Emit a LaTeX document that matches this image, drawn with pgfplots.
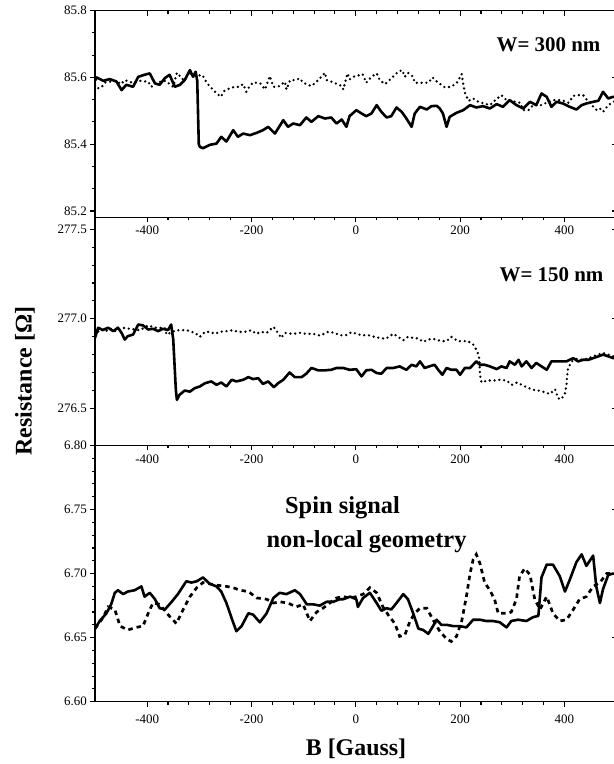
\documentclass[border=0pt]{standalone}
\usepackage{fontspec}
\setmainfont{Liberation Serif}
\usepackage{pgfplots}
\pgfplotsset{compat=1.18}

\pgfplotsset{
  panel/.style={
    scale only axis, width=521.6bp, anchor=south west,
    xmin=-500, xmax=500,
    xtick={-400,-200,0,200,400}, minor x tick num=4,
    axis line style={line width=1.5bp},
    major tick length=5bp, minor tick length=3bp,
    every tick/.style={line width=1.1bp, black},
    tick align=outside, xtick pos=left, ytick pos=left,
    ticklabel style={font=\fontsize{13}{13}\selectfont, inner sep=0pt},
    yticklabel style={xshift=-3bp},
    /pgf/number format/assume math mode=true,
    scaled y ticks=false,
  },
  frame/.style={
    scale only axis, width=521.6bp, anchor=south west,
    xmin=-500, xmax=500,
    xtick={-400,-200,0,200,400}, minor x tick num=4,
    axis line style={line width=1.5bp},
    major tick length=5bp, minor tick length=3bp,
    every tick/.style={line width=1.1bp, black},
    tick align=inside, xtick pos=right, ytick pos=right,
    xticklabels={}, yticklabels={},
    ticklabel style={text opacity=0},
    scaled y ticks=false,
  },
  solid/.style={black, line width=2.6bp, line join=round},
  dots/.style={black, line width=2.6bp, line cap=round, dash pattern=on 0bp off 4.8bp},
  dashes/.style={black, line width=2.7bp, dash pattern=on 4.5bp off 4bp},
}

\begin{document}
\begin{tikzpicture}
\path[use as bounding box] (0,0) rectangle (614bp,764bp);

% ---- W = 300 nm
\begin{axis}[panel, at={(95bp,546.7bp)}, height=206.6bp,
  ymin=85.181, ymax=85.8, ytick={85.2,85.4,85.6,85.8}, minor y tick num=2,
  yticklabel style={/pgf/number format/.cd, fixed, fixed zerofill, precision=1},
  xticklabel style={yshift=-3bp}]
\addplot[dots] coordinates {
(-500,85.575) (-497,85.567) (-488,85.570) (-480,85.585) (-472,85.587) (-460,85.590)
(-450,85.580) (-443,85.592) (-430,85.585) (-415,85.590) (-398,85.587) (-392,85.572)
(-380,85.585) (-365,85.590) (-350,85.572) (-343,85.614) (-332,85.595) (-318,85.612)
(-305,85.605) (-294,85.607) (-285,85.582) (-272,85.560) (-259,85.542) (-252,85.560)
(-238,85.570) (-224,85.572) (-216,85.580) (-210,85.557) (-205,85.570) (-197,85.585)
(-190,85.584) (-183,85.582) (-174,85.564) (-168,85.590) (-165,85.604) (-158,85.572)
(-149,85.572) (-136,85.587) (-133,85.564) (-126,85.592) (-117,85.592) (-107,85.597)
(-101,85.584) (-85,85.574) (-72,85.592) (-59,85.614) (-56,85.592) (-50,85.590)
(-43,85.584) (-34,85.580) (-27,85.574) (-24,85.564) (-16,85.612) (-12,85.594)
(-2,85.604) (8,85.607) (13,85.610) (20,85.584) (30,85.602) (40,85.612) (46,85.592)
(56,85.580) (68,85.597) (81,85.617) (89,85.622) (94,85.602) (100,85.614) (110,85.602)
(113,85.584) (126,85.584) (139,85.584) (147,85.600) (155,85.588) (171,85.570)
(182,85.572) (193,85.582) (203,85.610) (206,85.580) (209,85.555) (216,85.530)
(225,85.537) (235,85.527) (257,85.517) (266,85.530) (279,85.547) (289,85.532)
(305,85.527) (315,85.524) (321,85.502) (331,85.502) (340,85.517) (356,85.517)
(369,85.527) (379,85.532) (395,85.532) (408,85.524) (417,85.545) (427,85.547)
(436,85.547) (446,85.527) (462,85.502) (468,85.507) (474,85.497) (484,85.517)
(494,85.527) (500,85.530)
};
\addplot[solid] coordinates {
(-500,85.590) (-497,85.600) (-484,85.590) (-472,85.595) (-459,85.588) (-449,85.562)
(-440,85.578) (-427,85.572) (-417,85.602) (-405,85.608) (-395,85.612) (-385,85.582)
(-376,85.578) (-366,85.598) (-357,85.608) (-347,85.572) (-337,85.578) (-328,85.592)
(-318,85.622) (-312,85.602) (-307,85.617) (-304,85.590) (-301,85.400) (-299,85.392)
(-293,85.388) (-280,85.398) (-267,85.402) (-258,85.422) (-248,85.408) (-235,85.442)
(-226,85.422) (-216,85.432) (-203,85.427) (-190,85.434) (-178,85.442) (-168,85.452)
(-155,85.432) (-139,85.472) (-130,85.452) (-120,85.462) (-107,85.457) (-95,85.480)
(-85,85.467) (-72,85.484) (-59,85.477) (-47,85.480) (-37,85.462) (-27,85.474)
(-18,85.452) (-12,85.484) (1,85.502) (11,85.492) (20,85.484) (30,85.492) (40,85.517)
(49,85.497) (59,85.480) (68,85.484) (78,85.510) (88,85.497) (97,85.477) (107,85.452)
(113,85.492) (123,85.512) (136,85.504) (145,85.514) (155,85.515) (161,85.507)
(167,85.492) (174,85.452) (180,85.482) (193,85.494) (206,85.502) (219,85.517)
(231,85.510) (244,85.514) (257,85.507) (270,85.520) (282,85.512) (295,85.532)
(308,85.517) (321,85.507) (334,85.527) (346,85.517) (356,85.552) (366,85.542)
(375,85.512) (385,85.527) (397,85.522) (410,85.512) (423,85.504) (433,85.517)
(442,85.522) (455,85.527) (465,85.530) (474,85.557) (484,85.537) (493,85.542)
(500,85.540)
};
\end{axis}
\begin{axis}[frame, at={(95bp,546.7bp)}, height=206.6bp,
  ymin=85.181, ymax=85.8, ytick={85.2,85.4,85.6,85.8}, minor y tick num=2]
\end{axis}

% ---- W = 150 nm
\begin{axis}[panel, at={(95bp,318.5bp)}, height=228.2bp,
  ymin=276.292, ymax=277.567, ytick={276.5,277,277.5}, minor y tick num=4,
  yticklabel style={/pgf/number format/.cd, fixed, fixed zerofill, precision=1},
  xticklabel style={yshift=-4bp}]
\addplot[dots] coordinates {
(-500,276.910) (-490,276.940) (-480,276.930) (-470,276.945) (-460,276.930)
(-446,276.949) (-433,276.944) (-414,276.936) (-398,276.963) (-385,276.950)
(-366,276.949) (-363,276.912) (-344,276.936) (-334,276.936) (-324,276.936)
(-308,276.921) (-299,276.899) (-289,276.927) (-280,276.927) (-270,276.916)
(-261,276.927) (-248,276.931) (-235,276.936) (-226,276.927) (-213,276.927)
(-200,276.936) (-191,276.916) (-181,276.927) (-171,276.921) (-158,276.955)
(-149,276.921) (-143,276.893) (-136,276.921) (-120,276.916) (-107,276.921)
(-95,276.916) (-82,276.916) (-68,276.906) (-53,276.927) (-40,276.921) (-31,276.908)
(-19,276.908) (-8,276.925) (1,276.916) (11,276.908) (24,276.908) (36,276.899)
(46,276.893) (57,276.888) (72,276.916) (81,276.899) (91,276.880) (100,276.899)
(110,276.893) (120,276.890) (129,276.871) (139,276.884) (148,276.888) (164,276.875)
(174,276.875) (183,276.899) (196,276.875) (206,276.875) (215,276.875) (225,276.856)
(233,276.818) (237,276.775) (238,276.687) (241,276.644) (252,276.655) (264,276.655)
(276,276.659) (289,276.655) (299,276.631) (309,276.644) (318,276.631) (327,276.618)
(340,276.603) (350,276.599) (359,276.593) (372,276.580) (382,276.606) (388,276.556)
(394,276.550) (401,276.584) (404,276.631) (405,276.678) (407,276.725) (414,276.762)
(423,276.775) (433,276.771) (442,276.775) (455,276.790) (465,276.800) (474,276.809)
(484,276.800) (492,276.790) (500,276.790)
};
\addplot[solid] coordinates {
(-500,276.893) (-494,276.950) (-485,276.937) (-475,276.950) (-465,276.931)
(-456,276.950) (-449,276.921) (-443,276.884) (-437,276.903) (-427,276.912)
(-417,276.968) (-408,276.963) (-398,276.940) (-389,276.944) (-379,276.931)
(-370,276.944) (-360,276.937) (-354,276.968) (-350,276.884) (-345,276.603)
(-343,276.547) (-338,276.575) (-328,276.599) (-318,276.593) (-309,276.612)
(-299,276.622) (-289,276.640) (-277,276.650) (-267,276.631) (-258,276.644)
(-248,276.622) (-238,276.659) (-229,276.650) (-216,276.659) (-206,276.674)
(-197,276.663) (-187,276.668) (-178,276.636) (-168,276.650) (-157,276.618)
(-149,276.640) (-139,276.659) (-127,276.700) (-117,276.674) (-104,276.674)
(-95,276.693) (-85,276.725) (-72,276.712) (-59,276.712) (-47,276.715) (-37,276.725)
(-24,276.725) (-12,276.715) (1,276.718) (11,276.678) (20,276.712) (30,276.715)
(40,276.697) (49,276.693) (59,276.725) (72,276.725) (84,276.734) (97,276.715)
(107,276.743) (116,276.734) (123,276.762) (132,276.725) (142,276.735) (151,276.743)
(158,276.715) (166,276.687) (174,276.725) (183,276.715) (193,276.715) (200,276.687)
(209,276.725) (219,276.725) (231,276.762) (238,276.743) (247,276.743) (257,276.734)
(270,276.719) (279,276.734) (289,276.725) (295,276.762) (305,276.743) (312,276.771)
(318,276.734) (327,276.762) (337,276.725) (346,276.753) (356,276.734) (366,276.715)
(375,276.762) (388,276.762) (398,276.762) (404,276.762) (410,276.771) (417,276.780)
(426,276.762) (436,276.771) (446,276.771) (455,276.780) (465,276.790) (474,276.800)
(484,276.790) (494,276.780) (500,276.780)
};
\end{axis}
\begin{axis}[frame, at={(95bp,318.5bp)}, height=228.2bp,
  ymin=276.292, ymax=277.567, ytick={276.5,277,277.5}, minor y tick num=4]
\end{axis}

% ---- spin signal
\begin{axis}[panel, at={(95bp,62.3bp)}, height=256.2bp,
  ymin=6.6, ymax=6.8, ytick={6.6,6.65,6.7,6.75,6.8}, minor y tick num=4,
  yticklabel style={/pgf/number format/.cd, fixed, fixed zerofill, precision=2},
  xticklabel style={yshift=-8bp}]
\addplot[dashes] coordinates {
(-500,6.657) (-484,6.666) (-475,6.674) (-462,6.672) (-452,6.659) (-437,6.656)
(-421,6.658) (-408,6.659) (-398,6.669) (-389,6.677) (-376,6.676) (-360,6.668)
(-344,6.661) (-331,6.672) (-318,6.682) (-305,6.689) (-293,6.693) (-280,6.692)
(-267,6.691) (-248,6.690) (-235,6.689) (-222,6.687) (-206,6.686) (-190,6.681)
(-171,6.680) (-158,6.677) (-146,6.678) (-130,6.677) (-114,6.674) (-101,6.676)
(-88,6.663) (-75,6.670) (-63,6.673) (-50,6.677) (-37,6.681) (-24,6.682) (-11,6.681)
(1,6.682) (14,6.684) (27,6.689) (40,6.685) (52,6.674) (65,6.666) (75,6.661)
(84,6.651) (94,6.652) (104,6.663) (113,6.669) (123,6.673) (136,6.673) (148,6.664)
(161,6.655) (174,6.649) (183,6.647) (193,6.651) (203,6.663) (212,6.682) (219,6.700)
(225,6.711) (231,6.715) (238,6.708) (247,6.693) (257,6.687) (266,6.680) (273,6.669)
(282,6.669) (292,6.669) (298,6.670) (308,6.680) (314,6.698) (324,6.704) (334,6.699)
(343,6.680) (353,6.672) (366,6.682) (378,6.669) (391,6.663) (404,6.664) (417,6.672)
(429,6.680) (442,6.682) (455,6.690) (468,6.693) (481,6.700) (493,6.700) (500,6.700)
};
\addplot[solid, line width=2.6bp] coordinates {
(-500,6.657) (-491,6.663) (-478,6.669) (-469,6.676) (-462,6.685) (-456,6.687)
(-446,6.684) (-437,6.686) (-424,6.687) (-411,6.690) (-405,6.682) (-395,6.685)
(-385,6.680) (-376,6.673) (-366,6.672) (-353,6.678) (-341,6.684) (-325,6.694)
(-315,6.693) (-305,6.694) (-293,6.697) (-280,6.692) (-267,6.690) (-258,6.686)
(-248,6.677) (-237,6.664) (-229,6.655) (-219,6.659) (-206,6.669) (-197,6.668)
(-184,6.662) (-171,6.669) (-158,6.681) (-146,6.685) (-133,6.684) (-117,6.687)
(-107,6.684) (-94,6.676) (-82,6.676) (-69,6.675) (-56,6.678) (-43,6.678) (-31,6.680)
(-24,6.680) (-11,6.682) (1,6.680) (4,6.674) (14,6.681) (27,6.685) (40,6.677)
(49,6.671) (59,6.673) (68,6.672) (78,6.677) (91,6.684) (100,6.680) (110,6.669)
(120,6.657) (129,6.656) (139,6.653) (148,6.659) (155,6.664) (164,6.660) (174,6.660)
(187,6.659) (199,6.659) (212,6.658) (225,6.664) (238,6.664) (250,6.663) (263,6.663)
(276,6.662) (289,6.658) (298,6.663) (311,6.664) (327,6.663) (340,6.666) (350,6.667)
(356,6.697) (366,6.707) (378,6.707) (391,6.698) (401,6.686) (410,6.695) (423,6.709)
(433,6.715) (442,6.706) (455,6.714) (461,6.690) (468,6.677) (474,6.688) (484,6.699)
(493,6.700) (500,6.700)
};
\end{axis}
\begin{axis}[frame, at={(95bp,62.3bp)}, height=256.2bp,
  ymin=6.6, ymax=6.8, ytick={6.6,6.65,6.7,6.75,6.8}, minor y tick num=4]
\end{axis}

% ---- texts
\node[anchor=base, font=\bfseries\fontsize{21}{21}\selectfont, inner sep=0pt] at (548.5bp,712bp) {W= 300 nm};
\node[anchor=base, font=\bfseries\fontsize{21}{21}\selectfont, inner sep=0pt] at (551.5bp,482.3bp) {W= 150 nm};
\node[anchor=base, font=\bfseries\fontsize{24.5}{24.5}\selectfont, inner sep=0pt] at (342.5bp,250.7bp) {Spin signal};
\node[anchor=base, font=\bfseries\fontsize{24.5}{24.5}\selectfont, inner sep=0pt] at (366.5bp,216.7bp) {non-local geometry};
\node[anchor=base, font=\bfseries\fontsize{24}{24}\selectfont, inner sep=0pt] at (356bp,9bp) {B [Gauss]};
\node[rotate=90, font=\bfseries\fontsize{24}{24}\selectfont, inner sep=0pt] at (25bp,383bp) {Resistance [Ω]};
\end{tikzpicture}
\end{document}
